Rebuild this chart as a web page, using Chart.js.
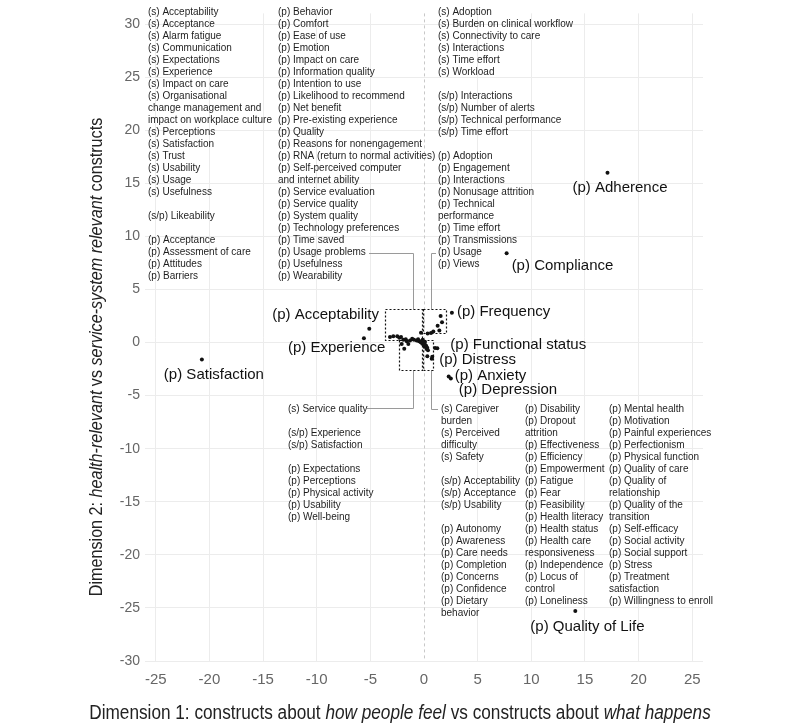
<!DOCTYPE html>
<html>
<head>
<meta charset="utf-8">
<script src="https://cdn.jsdelivr.net/npm/chart.js@4.4.1/dist/chart.umd.min.js"></script>
<style>
html,body{margin:0;padding:0;background:#fff;}
</style>
</head>
<body>
<canvas id="myChart" width="800" height="727"></canvas>
<script>
// constructs with their own big label
var namedLabels = ['(p) Adherence','(p) Compliance','(p) Acceptability','(p) Experience','(p) Satisfaction',
  '(p) Frequency','(p) Functional status','(p) Distress','(p) Anxiety','(p) Depression','(p) Quality of Life'];
var namedX = [17.1, 7.7, -5.1, -5.6, -20.7, 2.6, 1.24, 0.77, 2.3, 2.5, 14.1];
var namedY = [16.0, 8.4, 1.3, 0.4, -1.6, 2.8, -0.54, -1.35, -3.2, -3.4, -25.3];

// the crowded points near the origin
var clusterX = [-3.17,-2.86,-2.49,-2.3,-2.14,-1.93,-1.7,-1.61,-1.46,-1.3,-1.1,-2.08,-1.84,-0.93,-0.68,-0.55,-0.47,-0.31,-0.2,
  -0.16,0,0.05,0.12,0.2,0.25,0.3,0.37,-0.12,0.09,0.31,0.72,-0.28,0.34,0.65,0.87,1.43,1.27,1.68,1.55,1.03];
var clusterY = [0.51,0.58,0.58,0.45,0.51,0.26,0.3,0.11,-0.14,0.2,0.35,-0.14,-0.58,0.26,0.2,0.3,0.11,0.02,0.15,
  -0.11,-0.26,-0.1,-0.42,-0.3,-0.61,-0.5,-0.73,0.26,0.07,-1.29,-1.54,0.92,0.86,0.89,1.04,1.14,1.57,1.9,2.5,-0.51];

// axis ticks
var xTicks = [-25,-20,-15,-10,-5,0,5,10,15,20,25];
var yTicks = [-30,-25,-20,-15,-10,-5,0,5,10,15,20,25,30];

// lists of constructs
var blockA = ['(s) Acceptability','(s) Acceptance','(s) Alarm fatigue','(s) Communication','(s) Expectations','(s) Experience',
  '(s) Impact on care','(s) Organisational','change management and','impact on workplace culture','(s) Perceptions',
  '(s) Satisfaction','(s) Trust','(s) Usability','(s) Usage','(s) Usefulness','','(s/p) Likeability','',
  '(p) Acceptance','(p) Assessment of care','(p) Attitudes','(p) Barriers'];
var blockB = ['(p) Behavior','(p) Comfort','(p) Ease of use','(p) Emotion','(p) Impact on care','(p) Information quality',
  '(p) Intention to use','(p) Likelihood to recommend','(p) Net benefit','(p) Pre-existing experience','(p) Quality',
  '(p) Reasons for nonengagement','(p) RNA (return to normal activities)','(p) Self-perceived computer','and internet ability',
  '(p) Service evaluation','(p) Service quality','(p) System quality','(p) Technology preferences','(p) Time saved',
  '(p) Usage problems','(p) Usefulness','(p) Wearability'];
var blockC = ['(s) Adoption','(s) Burden on clinical workflow','(s) Connectivity to care','(s) Interactions','(s) Time effort',
  '(s) Workload','','(s/p) Interactions','(s/p) Number of alerts','(s/p) Technical performance','(s/p) Time effort','',
  '(p) Adoption','(p) Engagement','(p) Interactions','(p) Nonusage attrition','(p) Technical','performance','(p) Time effort',
  '(p) Transmissions','(p) Usage','(p) Views'];
var blockD = ['(s) Service quality','','(s/p) Experience','(s/p) Satisfaction','','(p) Expectations','(p) Perceptions',
  '(p) Physical activity','(p) Usability','(p) Well-being'];
var blockE = ['(s) Caregiver','burden','(s) Perceived','difficulty','(s) Safety','','(s/p) Acceptability','(s/p) Acceptance',
  '(s/p) Usability','','(p) Autonomy','(p) Awareness','(p) Care needs','(p) Completion','(p) Concerns','(p) Confidence',
  '(p) Dietary','behavior'];
var blockF = ['(p) Disability','(p) Dropout','attrition','(p) Effectiveness','(p) Efficiency','(p) Empowerment','(p) Fatigue',
  '(p) Fear','(p) Feasibility','(p) Health literacy','(p) Health status','(p) Health care','responsiveness',
  '(p) Independence','(p) Locus of','control','(p) Loneliness'];
var blockG = ['(p) Mental health','(p) Motivation','(p) Painful experiences','(p) Perfectionism','(p) Physical function',
  '(p) Quality of care','(p) Quality of','relationship','(p) Quality of the','transition','(p) Self-efficacy',
  '(p) Social activity','(p) Social support','(p) Stress','(p) Treatment','satisfaction','(p) Willingness to enroll'];

var xTitle = [['Dimension 1: constructs about ',0],['how people feel',1],[' vs constructs about ',0],['what happens',1]];
var yTitle = [['Dimension 2: ',0],['health-relevant',1],[' vs ',0],['service-system relevant',1],[' constructs',0]];

var sans = '"Liberation Sans", Arial, sans-serif';

// label offsets in px from the dot (left edge, middle)
var labelOffset = {
  '(p) Adherence':[-35,15], '(p) Compliance':[5,13], '(p) Acceptability':[-97,-14], '(p) Experience':[-76,10],
  '(p) Satisfaction':[-38,15], '(p) Frequency':[5,-1], '(p) Functional status':[13,-3], '(p) Distress':[7,3],
  '(p) Anxiety':[6,-1], '(p) Depression':[8,11], '(p) Quality of Life':[-45,16]
};

// axis titles: no narrow font installed, so squeeze a regular one
function drawMixed(ctx, parts, size, squeeze) {
  var total = 0;
  parts.forEach(function(p){ ctx.font = (p[1] ? 'italic ' : '') + size + 'px ' + sans; total += ctx.measureText(p[0]).width; });
  ctx.scale(squeeze, 1);
  var x = -total/2;
  parts.forEach(function(p){
    ctx.font = (p[1] ? 'italic ' : '') + size + 'px ' + sans;
    ctx.fillText(p[0], x, 0);
    x += ctx.measureText(p[0]).width;
  });
}

var decor = {
  id: 'decor',
  beforeDatasetsDraw: function(chart) {
    var ctx = chart.ctx, xs = chart.scales.x, ys = chart.scales.y, a = chart.chartArea;
    ctx.save();
    // dashed zero line
    ctx.strokeStyle = '#c8c8c8'; ctx.lineWidth = 1; ctx.setLineDash([3,3]);
    var x0 = Math.round(xs.getPixelForValue(0)) + 0.5;
    ctx.beginPath(); ctx.moveTo(x0, a.top); ctx.lineTo(x0, a.bottom); ctx.stroke();
    // connectors from lists to the zoom boxes
    ctx.setLineDash([]); ctx.strokeStyle = '#9a9a9a';
    var conns = [[369,253,-1.05,3.12],[436,253,0.62,3.12],[367,408,-1.0,-2.6],[438,409,0.62,-2.6]];
    conns.forEach(function(c){
      var lx = Math.round(xs.getPixelForValue(c[2])) + 0.5;
      ctx.beginPath(); ctx.moveTo(c[0], c[1] + 0.5); ctx.lineTo(lx, c[1] + 0.5); ctx.lineTo(lx, ys.getPixelForValue(c[3])); ctx.stroke();
    });
    // dotted boxes
    ctx.strokeStyle = '#111'; ctx.setLineDash([2,2]); ctx.lineWidth = 1.2;
    var boxes = [[-3.6,3.12,-0.12,0.2],[-0.05,3.12,2.05,0.9],[-2.3,0.2,-0.2,-2.6],[-0.1,0.2,0.85,-2.6]];
    boxes.forEach(function(b){
      var l = xs.getPixelForValue(b[0]), t = ys.getPixelForValue(b[1]);
      var r = xs.getPixelForValue(b[2]), bt = ys.getPixelForValue(b[3]);
      ctx.strokeRect(Math.round(l)+0.5, Math.round(t)+0.5, Math.round(r-l), Math.round(bt-t));
    });
    ctx.restore();
  },
  afterDatasetsDraw: function(chart) {
    var ctx = chart.ctx, xs = chart.scales.x, ys = chart.scales.y;
    ctx.save();
    ctx.textBaseline = 'middle'; ctx.textAlign = 'left';
    // lists
    ctx.fillStyle = '#1e1e1e'; ctx.font = '10px ' + sans;
    var blocks = [[blockA,148,12],[blockB,278,12],[blockC,438,12],[blockD,288,409],[blockE,441,409],[blockF,525,409],[blockG,609,409]];
    blocks.forEach(function(b){
      b[0].forEach(function(t, i){ ctx.fillText(t, b[1], b[2] + i*12); });
    });
    // big labels
    ctx.fillStyle = '#111'; ctx.font = '15px ' + sans;
    namedLabels.forEach(function(t, i){
      var o = labelOffset[t];
      ctx.fillText(t, xs.getPixelForValue(namedX[i]) + o[0], ys.getPixelForValue(namedY[i]) + o[1]);
    });
    ctx.restore();
  },
  afterDraw: function(chart) {
    var ctx = chart.ctx;
    ctx.save();
    ctx.fillStyle = '#222'; ctx.textBaseline = 'middle'; ctx.textAlign = 'left';
    ctx.translate(400, 713);
    drawMixed(ctx, xTitle, 20, 0.86);
    ctx.restore();
    ctx.save();
    ctx.fillStyle = '#222'; ctx.textBaseline = 'middle'; ctx.textAlign = 'left';
    ctx.translate(97, 357); ctx.rotate(-Math.PI/2);
    drawMixed(ctx, yTitle, 19, 0.85);
    ctx.restore();
  }
};

var clusterPts = clusterX.map(function(x, i){ return {x: x, y: clusterY[i]}; });
var namedPts = namedX.map(function(x, i){ return {x: x, y: namedY[i]}; });

new Chart(document.getElementById('myChart'), {
  type: 'scatter',
  data: {
    datasets: [
      { data: namedPts, pointRadius: 2, pointBackgroundColor: '#111', pointBorderWidth: 0 },
      { data: clusterPts, pointRadius: 2, pointBackgroundColor: '#111', pointBorderWidth: 0 }
    ]
  },
  options: {
    responsive: false,
    animation: false,
    layout: { padding: { top: 7, right: 97, left: 0, bottom: 0 } },
    plugins: { legend: { display: false }, tooltip: { enabled: false } },
    scales: {
      x: {
        min: -26, max: 26,
        afterBuildTicks: function(s){ s.ticks = xTicks.map(function(v){ return {value: v}; }); },
        afterFit: function(s){ s.height = 66; },
        grid: { color: function(c){ return c.tick && c.tick.value === 0 ? 'rgba(0,0,0,0)' : '#ececec'; }, drawTicks: false },
        border: { display: false },
        ticks: { color: '#666', padding: 10, font: { family: sans, size: 15 } }
      },
      y: {
        min: -30, max: 31,
        afterBuildTicks: function(s){ s.ticks = yTicks.map(function(v){ return {value: v}; }); },
        afterFit: function(s){ s.width = 145; },
        grid: { color: '#ececec', drawTicks: false },
        border: { display: false },
        ticks: { color: '#666', padding: 5, font: { family: sans, size: 14 } }
      }
    }
  },
  plugins: [decor]
});
</script>
</body>
</html>
